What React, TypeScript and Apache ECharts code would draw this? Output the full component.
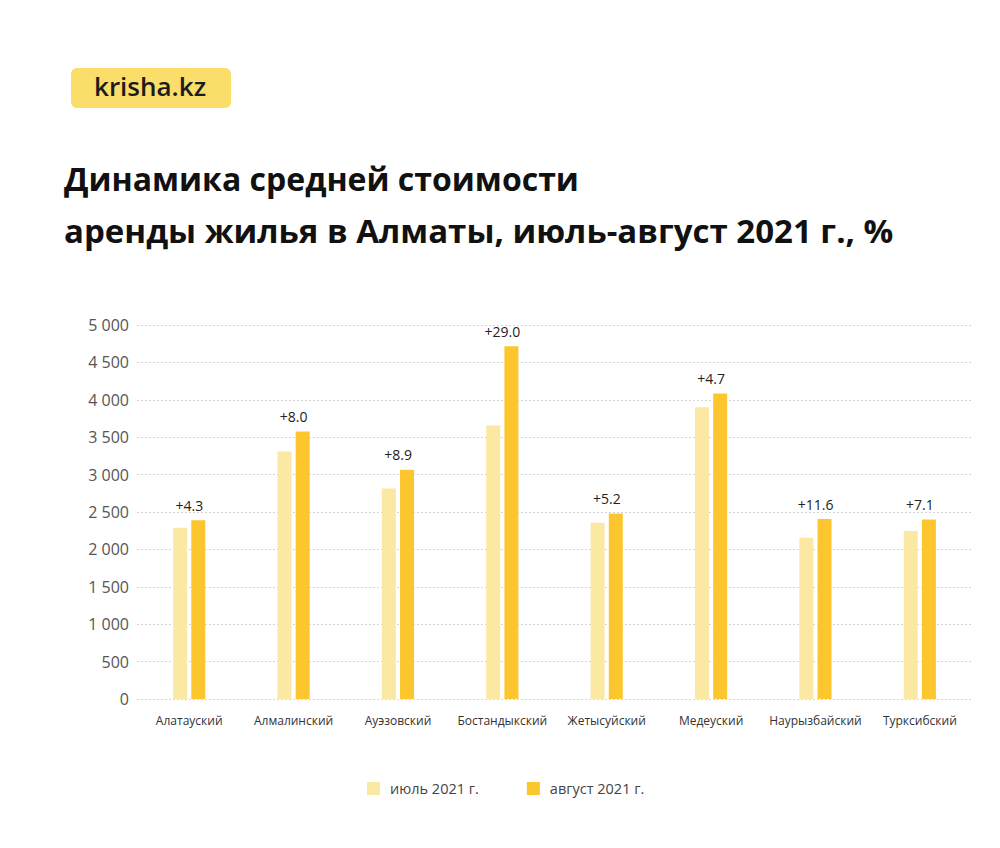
import React, { useEffect, useRef } from "react";
import * as echarts from "echarts";

const categories = [
  "Алатауский",
  "Алмалинский",
  "Ауэзовский",
  "Бостандыкский",
  "Жетысуйский",
  "Медеуский",
  "Наурызбайский",
  "Турксибский",
];
const july = [2290, 3310, 2815, 3655, 2355, 3900, 2155, 2245];
const august = [2390, 3575, 3065, 4715, 2480, 4085, 2405, 2400];
const changes = ["+4.3", "+8.0", "+8.9", "+29.0", "+5.2", "+4.7", "+11.6", "+7.1"];
const seriesNames = ["июль 2021 г.", "август 2021 г."];
const titleLines = ["Динамика средней стоимости", "аренды жилья в Алматы, июль-август 2021 г., %"];

const FONT = "'Open Sans', 'DejaVu Sans', sans-serif";

export default function App() {
  const ref = useRef<HTMLDivElement>(null);
  useEffect(() => {
    if (!ref.current) return;
    const chart = echarts.init(ref.current, undefined, { renderer: "svg" });
    chart.setOption({
      animation: false,
      backgroundColor: "#ffffff",
      textStyle: { fontFamily: FONT },
      graphic: [
        {
          type: "rect",
          left: 71,
          top: 68,
          shape: { width: 160, height: 40, r: 6 },
          style: { fill: "#FBDE6A" },
        },
        {
          type: "text",
          left: 94,
          top: 73,
          style: {
            text: "krisha.kz",
            font: "600 26px " + FONT,
            fill: "#1c1c1c",
          },
        },
        {
          type: "text",
          left: 64,
          top: 162,
          style: { text: titleLines[0], font: "bold 32px " + FONT, fill: "#111111" },
        },
        {
          type: "text",
          left: 64,
          top: 214,
          style: { text: titleLines[1], font: "bold 33px " + FONT, fill: "#111111" },
        },
      ],
      legend: {
        left: 362,
        top: 776,
        itemWidth: 13,
        itemHeight: 13,
        itemGap: 48,
        icon: "rect",
        textStyle: { fontSize: 14.5, color: "#444444", fontFamily: FONT, padding: [0, 0, 0, 5] },
        data: seriesNames,
      },
      grid: { left: 137, right: 28, top: 325, bottom: 149, containLabel: false },
      xAxis: {
        type: "category",
        data: categories,
        axisLine: { show: false },
        axisTick: { show: false },
        axisLabel: { fontSize: 12, color: "#333333", margin: 15, interval: 0, fontFamily: FONT },
      },
      yAxis: {
        type: "value",
        min: 0,
        max: 5000,
        interval: 500,
        axisLine: { show: false },
        axisTick: { show: false },
        axisLabel: {
          fontSize: 16,
          color: "#555555",
          margin: 8,
          fontFamily: FONT,
          formatter: (v: number) => String(v).replace(/\B(?=(\d{3})+(?!\d))/g, " "),
        },
        splitLine: { lineStyle: { type: [2, 2], color: "#d6d6d6", width: 1 } },
      },
      series: [
        {
          name: seriesNames[0],
          type: "bar",
          data: july,
          barWidth: 14,
          barGap: "30%",
          itemStyle: { color: "#FBE8A2" },
        },
        {
          name: seriesNames[1],
          type: "bar",
          data: august,
          barWidth: 14,
          itemStyle: { color: "#FDC62E" },
          label: {
            show: true,
            position: "top",
            distance: 8,
            offset: [-9, 0],
            fontSize: 14,
            color: "#222222",
            fontFamily: FONT,
            formatter: (p: any) => changes[p.dataIndex],
          },
        },
      ],
    });
    return () => chart.dispose();
  }, []);
  return (
    <div
      ref={ref}
      style={{ position: "absolute", left: 0, top: 0, width: 1000, height: 848 }}
    />
  );
}
